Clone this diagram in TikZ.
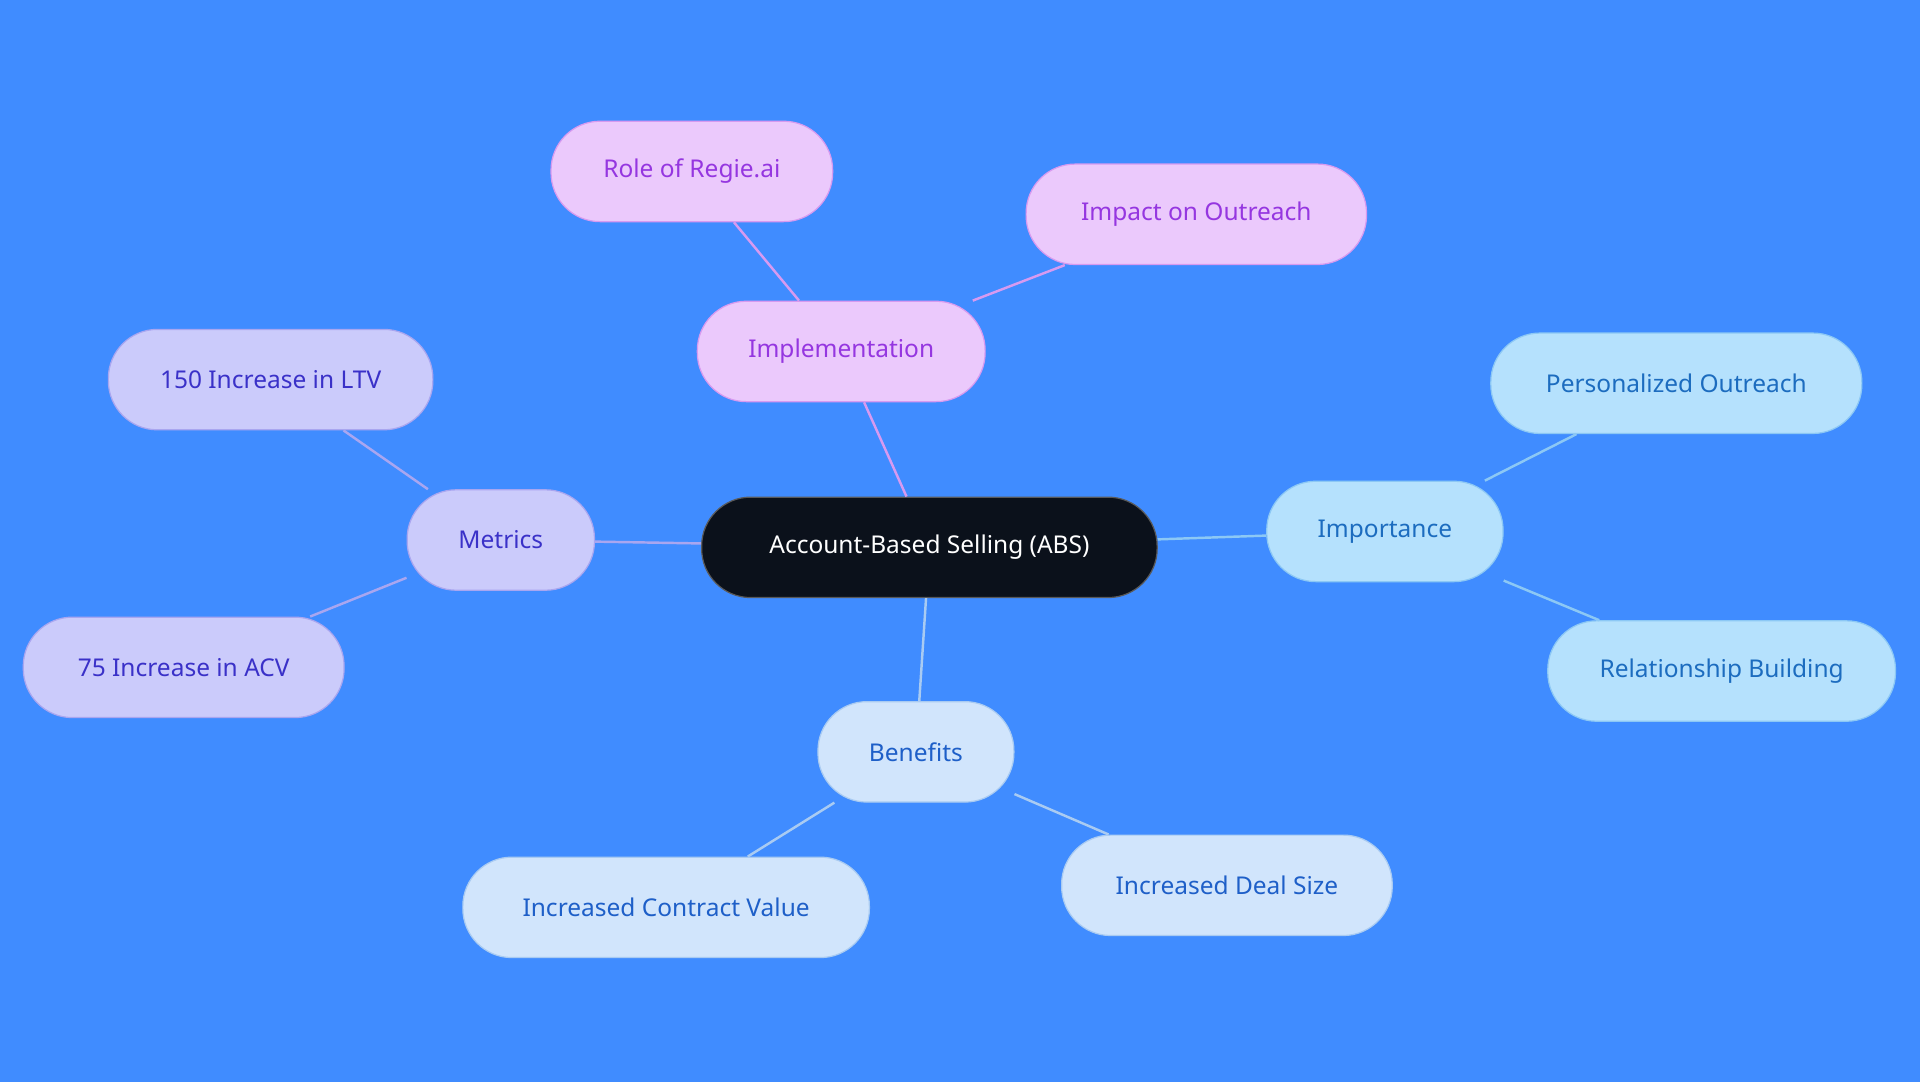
\documentclass[tikz,border=0pt]{standalone}
\usepackage{fontspec}
\setmainfont{Noto Sans}
\begin{document}
\begin{tikzpicture}[x=1pt,y=-1pt,
  base/.style={rounded corners=40pt,minimum height=82pt,inner sep=0pt,font=\fontsize{20}{24}\selectfont,line width=1pt},
  root/.style={base,fill=black!90!blue!80!white,fill=rootc,draw=gray!70!black,text=white},
  pur/.style={base,fill=purf,draw=purd,text=purt},
  vio/.style={base,fill=viof,draw=viod,text=viot},
  sky/.style={base,fill=skyf,draw=skyd,text=skyt},
  pal/.style={base,fill=palf,draw=pald,text=palt},
  e/.style={line width=2pt}]
\definecolor{bg}{HTML}{408CFF}
\definecolor{rootc}{HTML}{0B111B}
\definecolor{purf}{HTML}{EBC9FC}\definecolor{purd}{HTML}{D79AF0}\definecolor{purt}{HTML}{9536E0}
\definecolor{viof}{HTML}{CBCBFB}\definecolor{viod}{HTML}{A9A6F0}\definecolor{viot}{HTML}{3A31C8}
\definecolor{skyf}{HTML}{B5E1FD}\definecolor{skyd}{HTML}{8CC8F5}\definecolor{skyt}{HTML}{1C6CBF}
\definecolor{palf}{HTML}{D1E5FC}\definecolor{pald}{HTML}{A9CBF2}\definecolor{palt}{HTML}{1E5FC8}
\fill[bg] (0,0) rectangle (1568,884);
\useasboundingbox (0,0) rectangle (1568,884);
\node[root,minimum width=372pt] (abs) at (759,447) {Account-Based Selling (ABS)};
\node[pur,minimum width=235pt] (imp) at (687,287) {Implementation};
\node[pur,minimum width=230pt] (reg) at (565,140) {Role of Regie.ai};
\node[pur,minimum width=278pt] (out) at (977,175) {Impact on Outreach};
\node[vio,minimum width=153pt] (met) at (409,441) {Metrics};
\node[vio,minimum width=265pt] (ltv) at (221,310) {150 Increase in LTV};
\node[vio,minimum width=262pt] (acv) at (150,545) {75 Increase in ACV};
\node[sky,minimum width=193pt] (ipt) at (1131,434) {Importance};
\node[sky,minimum width=303pt] (per) at (1369,313) {Personalized Outreach};
\node[sky,minimum width=284pt] (rel) at (1406,548) {Relationship Building};
\node[pal,minimum width=160pt] (ben) at (748,614) {Benefits};
\node[pal,minimum width=332pt] (con) at (544,741) {Increased Contract Value};
\node[pal,minimum width=270pt] (deal) at (1002,723) {Increased Deal Size};
\begin{scope}[on background layer/.style={}]
\end{scope}
\draw[e,purd] (abs) -- (imp); \draw[e,purd] (imp) -- (reg); \draw[e,purd] (imp) -- (out);
\draw[e,viod] (abs) -- (met); \draw[e,viod] (met) -- (ltv); \draw[e,viod] (met) -- (acv);
\draw[e,skyd] (abs) -- (ipt); \draw[e,skyd] (ipt) -- (per); \draw[e,skyd] (ipt) -- (rel);
\draw[e,pald] (abs) -- (ben); \draw[e,pald] (ben) -- (con); \draw[e,pald] (ben) -- (deal);
\end{tikzpicture}
\end{document}
